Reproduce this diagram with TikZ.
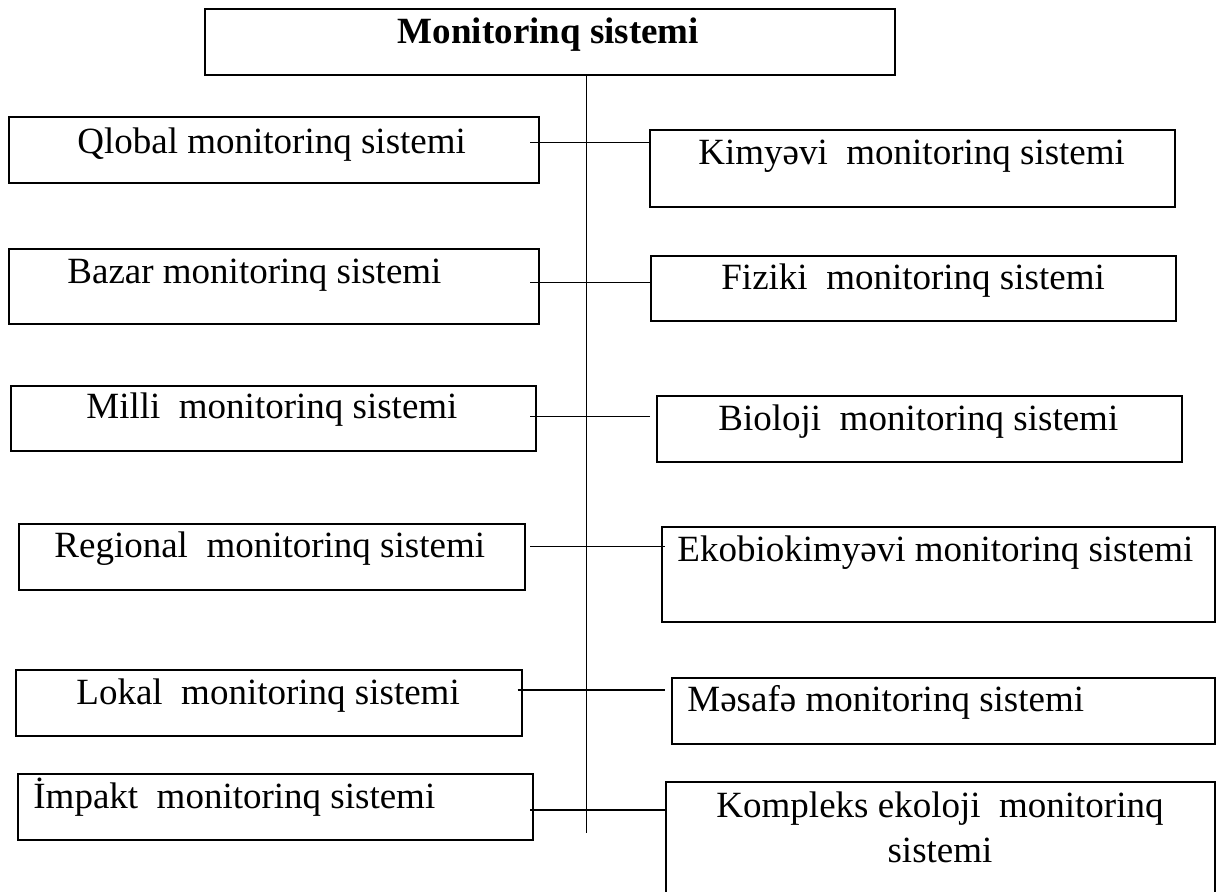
\documentclass[tikz,border=0pt]{standalone}
\usepackage{fontspec}
\setmainfont{Liberation Serif}
\usetikzlibrary{fit}
\begin{document}
\begin{tikzpicture}[x=0.5pt,y=-0.5pt,
  box/.style={draw=black, line width=1.05pt, inner sep=0pt},
  lbl/.style={inner sep=0pt, anchor=base west, font=\fontsize{18.5}{22.5}\selectfont},
  conn/.style={draw=black, line width=0.75pt}]
\useasboundingbox (0,0) rectangle (1222,891);
\clip (0,0) rectangle (1222,891);

% boxes
\node[box, fit={(205,9)(895,75)}] (top) {};
\node[box, fit={(9,117)(539,183)}] (qlo) {};
\node[box, fit={(650,130)(1175,207)}] (kim) {};
\node[box, fit={(9,249)(539,324)}] (baz) {};
\node[box, fit={(651,256)(1176,321)}] (fiz) {};
\node[box, fit={(11,386)(536,451)}] (mil) {};
\node[box, fit={(657,396)(1182,462)}] (bio) {};
\node[box, fit={(19,524)(525,590)}] (reg) {};
\node[box, fit={(662,527)(1215,622)}] (eko) {};
\node[box, fit={(16,670)(522,736)}] (lok) {};
\node[box, fit={(672,678)(1215,744)}] (mes) {};
\node[box, fit={(18,774)(533,840)}] (imp) {};
\node[box, fit={(666,782)(1215,910)}] (kom) {};

% texts
\node[lbl, anchor=base, font=\fontsize{18.5}{22.5}\selectfont\bfseries] (ttop) at (548.5,43) {Monitorinq sistemi};
\node[lbl] (tqlo) at (77,153) {Qlobal monitorinq sistemi};
\node[lbl] (tkim) at (698,164) {Kimyəvi\ \ monitorinq sistemi};
\node[lbl] (tbaz) at (67,283) {Bazar monitorinq sistemi};
\node[lbl] (tfiz) at (721,289) {Fiziki\ \ monitorinq sistemi};
\node[lbl] (tmil) at (86,418) {Milli\ \ monitorinq sistemi};
\node[lbl] (tbio) at (718,430) {Bioloji\ \ monitorinq sistemi};
\node[lbl] (treg) at (54,557) {Regional\ \ monitorinq sistemi};
\node[lbl] (teko) at (677,561.7) {Ekobiokimyəvi monitorinq sistemi};
\node[lbl] (tlok) at (76,704.5) {Lokal\ \ monitorinq sistemi};
\node[lbl] (tmes) at (687,711.5) {Məsafə monitorinq sistemi};
\node[lbl] (timp) at (33,808.5) {İmpakt\ \ monitorinq sistemi};
\node[lbl, anchor=base, align=center] (tkom) at (940,862) {Kompleks ekoloji\ \ monitorinq\\sistemi};

% trunk
\coordinate (vt) at (586.5,75);
\coordinate (vb) at (586.5,833);
\draw[conn] (vt) -- (vb);

% branches
\coordinate (l1) at (530,142.3);   \coordinate (r1) at (650,142.3);
\coordinate (l2) at (530,282.3);   \coordinate (r2) at (651,282.3);
\coordinate (l3) at (530,416.3);   \coordinate (r3) at (650,416.3);
\coordinate (l4) at (530,546.7);   \coordinate (r4) at (665,546.7);
\coordinate (l5) at (517.7,690);   \coordinate (r5) at (665,690);
\coordinate (l6) at (530,810);     \coordinate (r6) at (666,810);
\draw[conn] (l1) -- (r1);
\draw[conn] (l2) -- (r2);
\draw[conn] (l3) -- (r3);
\draw[conn] (l4) -- (r4);
\draw[conn] (l5) -- (r5);
\draw[conn] (l6) -- (r6);
\end{tikzpicture}
\end{document}
